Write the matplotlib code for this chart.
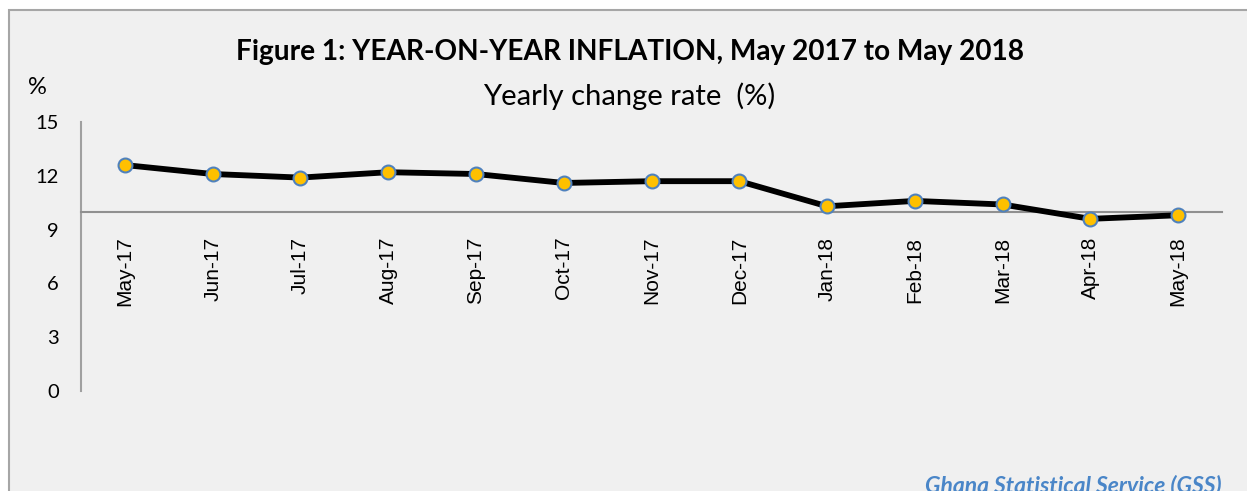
import matplotlib
matplotlib.use('Agg')
import matplotlib.pyplot as plt
from matplotlib.patches import Rectangle

months = ['May-17', 'Jun-17', 'Jul-17', 'Aug-17', 'Sep-17', 'Oct-17', 'Nov-17',
          'Dec-17', 'Jan-18', 'Feb-18', 'Mar-18', 'Apr-18', 'May-18']
inflation = [12.6, 12.1, 11.9, 12.2, 12.1, 11.6, 11.7, 11.7, 10.3, 10.6, 10.4, 9.6, 9.8]
y_ticks = [0, 3, 6, 9, 12, 15]

W, H = 1247, 491
fig = plt.figure(figsize=(W / 100, H / 100), dpi=100)
fig.patch.set_facecolor('white')

# chart area frame (Excel style), right/bottom edges run off the picture
fig.patches.append(Rectangle((9 / W, -0.05), 1.2, 1 - 10 / H + 0.05,
                             transform=fig.transFigure, facecolor='#f0f0f0',
                             edgecolor='#a6a6a6', linewidth=1.5, zorder=-1))

ax = fig.add_axes([81 / W, 1 - 391 / H, (1222 - 81) / W, (391 - 122) / H])
ax.set_facecolor('none')
ax.set_zorder(2)

# horizontal axis crosses at 10 (set before labels, it resets the ticks)
for s in ['top', 'right']:
    ax.spines[s].set_visible(False)
ax.spines['bottom'].set_position(('data', 10))
ax.spines['left'].set_color('#a0a0a0')
ax.spines['left'].set_linewidth(1.5)
ax.spines['bottom'].set_color('#909090')
ax.spines['bottom'].set_linewidth(1.5)

x = list(range(len(months)))
ax.plot(x, inflation, color='black', linewidth=4.2, zorder=3,
        marker='o', markersize=10, markerfacecolor='#ffc000',
        markeredgecolor='#4f81bd', markeredgewidth=1.5)

ax.set_xlim(-0.5, len(months) - 0.5)
ax.set_ylim(0, 15)
ax.set_yticks(y_ticks)
ax.set_yticklabels([str(v) for v in y_ticks], fontsize=14.5, family='Lato')
ax.set_xticks(x)
ax.set_xticklabels(months, rotation=90, fontsize=15, family='Liberation Sans',
                   va='top', ha='center')
ax.tick_params(axis='x', length=0, pad=18)
ax.tick_params(axis='y', length=0, pad=16)

fig.text(630 / W, 1 - 52 / H, 'Figure 1: YEAR-ON-YEAR INFLATION, May 2017 to May 2018',
         ha='center', va='center', fontsize=20.2, fontweight='bold', family='Lato')
fig.text(629 / W, 1 - 96 / H, 'Yearly change rate  (%)', ha='center', va='center',
         fontsize=21, family='Lato')
fig.text(37 / W, 1 - 88 / H, '%', ha='center', va='center', fontsize=17, family='Lato')
fig.text(1222 / W, 1 - 475 / H, 'Ghana Statistical Service (GSS)', ha='right', va='top',
         fontsize=16.5, fontweight='bold', fontstyle='italic', family='Lato',
         color='#4a86c8')

fig.savefig('out.png', dpi=100, facecolor=fig.get_facecolor())
